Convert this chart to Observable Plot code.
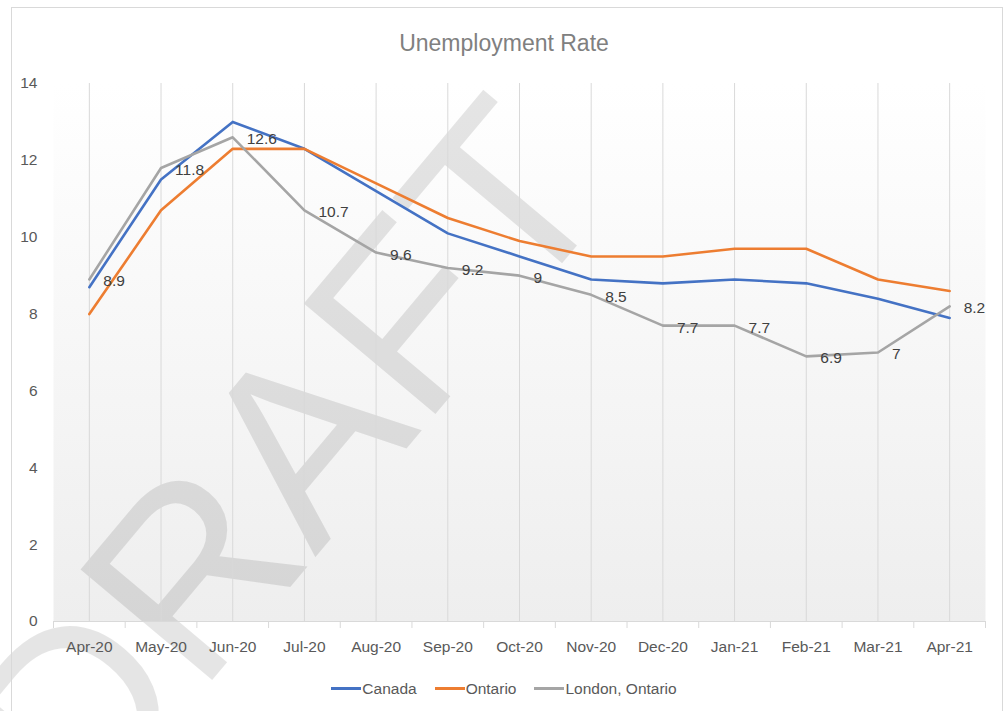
<!DOCTYPE html>
<html><head><meta charset="utf-8">
<script src="https://cdn.jsdelivr.net/npm/d3@7"></script>
<script src="https://cdn.jsdelivr.net/npm/@observablehq/plot@0.6"></script>
<style>
body{margin:0;background:#fff;}
#wrap{position:relative;width:1008px;height:711px;overflow:hidden;font-family:"Liberation Sans",Arial,sans-serif;}
#chart{position:absolute;left:0;top:0;}
#border{position:absolute;left:11px;top:7px;width:990px;height:720px;border:1px solid #d9d9d9;pointer-events:none;}
#title{position:absolute;left:0;width:1008px;top:32px;line-height:1;text-align:center;font-size:23px;color:#808080;}
#legend{position:absolute;top:681px;left:0;width:1008px;line-height:1;display:flex;justify-content:center;align-items:center;gap:18px;font-size:15.5px;color:#595959;}
#legend .item{display:flex;align-items:center;}
#legend .sw{display:inline-block;width:30px;height:3px;margin-right:1px;}
</style>
</head><body>
<div id="wrap">
  <div id="chart"></div>
  <div id="border"></div>
  <div id="title">Unemployment Rate</div>
  <div id="legend"></div>
</div>
<script>
const months = ["Apr-20","May-20","Jun-20","Jul-20","Aug-20","Sep-20","Oct-20","Nov-20","Dec-20","Jan-21","Feb-21","Mar-21","Apr-21"];
const seriesNames = ["Canada","Ontario","London, Ontario"];
const seriesColors = ["#4472C4","#ED7D31","#A5A5A5"];
const canada  = [8.7, 11.5, 13.0, 12.3, 11.2, 10.1, 9.5, 8.9, 8.8, 8.9, 8.8, 8.4, 7.9];
const ontario = [8.0, 10.7, 12.3, 12.3, 11.4, 10.5, 9.9, 9.5, 9.5, 9.7, 9.7, 8.9, 8.6];
const london  = [8.9, 11.8, 12.6, 10.7, 9.6, 9.2, 9.0, 8.5, 7.7, 7.7, 6.9, 7.0, 8.2];
const yTicks = [0, 2, 4, 6, 8, 10, 12, 14];
const watermark = "DRAFT";

const seriesValues = [canada, ontario, london];
const rows = seriesNames.flatMap((s, si) => months.map((m, i) => ({series: s, month: m, value: seriesValues[si][i]})));
const londonRows = rows.filter(d => d.series === "London, Ontario");

const W = 1008, H = 711, mL = 53, mR = 23, mT = 83, mB = 90;
const step = (W - mL - mR) / months.length;
const font = '"Liberation Sans",Arial,sans-serif';

const chart = Plot.plot({
  width: W, height: H,
  marginTop: mT, marginBottom: mB, marginLeft: mL, marginRight: mR,
  style: {background: "transparent", fontFamily: font, fontSize: "15.5px", color: "#595959", overflow: "visible"},
  x: {type: "point", domain: months, padding: 0.5, round: false, label: null},
  y: {domain: [0, 14], label: null},
  color: {domain: seriesNames, range: seriesColors},
  marks: [
    Plot.frame({fill: "url(#paGrad)", stroke: null}),
    Plot.text([watermark], {frameAnchor: "top-left", dx: 236, dy: 380, rotate: -50, fontSize: 250,
      fontFamily: '"Liberation Sans",sans-serif', fill: "#000", fillOpacity: 0.1, textAnchor: "middle", lineAnchor: "middle"}),
    Plot.gridX({stroke: "#d9d9d9", strokeOpacity: 1, strokeWidth: 1}),
    Plot.ruleY([0], {stroke: "#d9d9d9", strokeWidth: 1.2}),
    Plot.axisX({tickSize: 0, tickPadding: 19, fill: "#595959", fontSize: 15.5}),
    Plot.axisX({text: null, tickSize: 7, dx: -step / 2, stroke: "#d9d9d9"}),
    Plot.axisX([months[months.length - 1]], {text: null, tickSize: 7, dx: step / 2, stroke: "#d9d9d9"}),
    Plot.axisY(yTicks, {tickSize: 0, tickPadding: 16, fill: "#595959", fontSize: 15.5}),
    Plot.line(rows, {x: "month", y: "value", z: "series", stroke: "series", strokeWidth: 2.6, strokeLinejoin: "round", strokeLinecap: "round"}),
    Plot.text(londonRows, {x: "month", y: "value", text: d => String(d.value), dx: 14, dy: 2, textAnchor: "start", fill: "#404040", fontSize: 15.5})
  ]
});

d3.select(chart).insert("defs", ":first-child").html(
  '<linearGradient id="paGrad" x1="0" y1="0" x2="0" y2="1">' +
  '<stop offset="0" stop-color="#ffffff"/><stop offset="1" stop-color="#eeeeee"/></linearGradient>');
document.getElementById("chart").appendChild(chart);

const legend = d3.select("#legend");
seriesNames.forEach((s, i) => {
  const it = legend.append("div").attr("class", "item");
  it.append("span").attr("class", "sw").style("background", seriesColors[i]);
  it.append("span").text(s);
});
</script>
</body></html>
